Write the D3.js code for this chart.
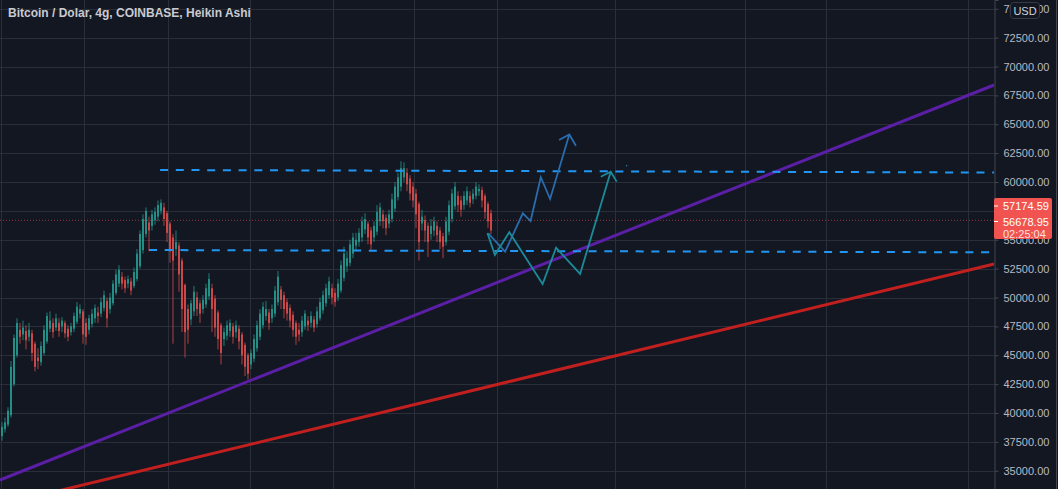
<!DOCTYPE html>
<html><head><meta charset="utf-8">
<script src="https://cdn.jsdelivr.net/npm/d3@7"></script>
<style>
html,body{margin:0;padding:0;background:#131722;overflow:hidden;}
svg{display:block;}
</style></head>
<body>
<svg id="c" width="1058" height="489"></svg>
<script>
// ---- data (prices in USD) ----
const title = "Bitcoin / Dolar, 4g, COINBASE, Heikin Ashi";
const opens = [38000,38600,39000,39800,42500,45000,47200,46800,47100,46600,46900,46000,44800,44400,45200,46200,47300,47800,47400,47800,47500,47800,47300,47000,47300,47900,48600,48800,47800,47200,47700,48200,48700,48600,49100,49700,49000,49500,50400,51200,51800,51500,51200,51400,51000,51600,52700,54100,55500,56500,56200,56700,57000,57500,57800,57300,56400,55200,54200,54500,53200,51100,49000,48100,48800,50000,49500,49000,49400,50100,50800,49900,48700,47600,46400,46700,47100,47500,47000,47300,46800,45900,45000,44200,44700,45600,46600,47600,48400,48700,48200,48600,49600,50700,50200,49600,49100,48500,47800,47200,47000,47500,48000,47800,48100,47700,48200,48900,49500,50200,50800,50400,50000,50600,51700,52700,53000,53800,54500,54800,55200,55900,56400,55800,55200,55700,56600,57200,56900,56400,56800,57700,58700,59600,60400,60800,60300,59600,59000,58100,56400,56700,56200,55500,55800,56200,55800,55300,54800,55700,56800,57900,58800,58400,58000,58400,58800,58500,58800,59200,59300,58800,58100,57300];
const closes = [38800,39200,40200,44000,46500,47800,46600,47400,46300,47200,45200,44000,44500,45800,47200,48400,48000,47000,48200,47100,48000,46900,46600,47500,48400,49200,49000,46800,46600,48200,48600,49100,48400,49600,50200,48200,50000,51200,52000,52400,51200,50800,51600,50600,52200,53800,55500,56800,57500,55800,57200,57400,58000,58200,56800,55600,54000,53200,54800,52000,49000,47000,47200,49500,50500,49000,48600,49800,50800,51600,49000,47400,46400,45200,47000,47600,47800,46600,47600,46200,45000,44000,43400,45200,46400,47600,48600,49200,49000,47800,49000,50600,51800,49800,49000,48600,48000,47200,46600,46800,48000,48600,47600,48400,47400,48800,49600,50200,50800,51400,50000,49600,51200,52800,53800,53400,54600,55200,55000,55600,56600,56800,55200,54600,56200,57400,57800,56600,56000,57200,58500,59600,60400,61200,61200,59800,59000,58400,57200,54800,57000,55800,54800,56200,56600,55400,54800,54400,56600,58000,59000,59600,58000,57600,58800,59200,58200,59000,59600,59400,58400,57400,56600,55800];
const highs = [39200,39600,40500,44500,46800,48200,47800,48000,47600,47800,47200,46200,45600,46200,47600,48700,48800,48200,48600,48200,48300,48000,47600,47800,48700,49600,49400,49000,48200,48500,49000,49400,49200,50000,50600,50000,50400,51500,52400,52800,52200,51800,51900,51700,52600,54200,55800,57200,57800,57000,57600,57800,58400,58500,58200,57500,56600,55500,55800,54800,53400,51200,49400,49800,51000,50500,49800,50200,51200,52100,51200,50200,48900,47800,47400,48000,48100,47800,48000,47600,47000,46100,45200,45500,46800,48000,49000,49600,49700,49000,49400,51000,52300,51000,50500,49900,49400,48800,48000,47800,48400,48900,48400,48800,48400,49200,50000,50600,51200,51800,51200,50800,51600,53200,54400,54000,55000,55600,55600,56000,57000,57300,56600,56100,56600,58000,58200,57600,57200,57600,59000,60000,60800,61800,61700,61200,60600,60000,59400,58300,57600,57100,56500,56800,57000,56600,56100,55600,57000,58400,59400,60000,59200,58800,59200,59600,59200,59400,60000,59800,59600,59000,58300,57600];
const lows = [37600,38300,38800,39600,42300,44800,46000,46300,45500,46200,44500,43600,43800,44100,45000,46000,47000,46500,47100,46600,47000,46500,46200,46700,47000,47700,48200,46000,45900,46800,47400,47800,47800,48300,48800,47400,48600,49300,50200,50900,50700,50400,50800,50200,50800,51400,52500,53800,55200,54000,55800,56300,56600,57200,56200,54800,53000,46000,53600,50500,47000,44800,46000,47600,48400,48400,47800,48600,49100,49800,47000,46600,45500,44200,45800,46300,46600,46000,46500,45500,44200,43200,42900,43800,44400,45300,46300,47300,48000,47200,47800,48300,49300,49000,48200,48000,47400,46600,45900,46200,46600,47200,47100,47400,47000,47400,48000,48600,49200,49900,49400,49200,49700,50400,51400,52200,52700,53400,54000,54400,54800,55500,54600,54100,54800,55400,56200,56000,55400,56000,56500,57400,58400,59200,60000,59200,58400,57800,56000,53200,55800,54800,53500,55000,55300,54800,54200,53400,54500,55400,56500,57600,57400,57000,57600,58000,57800,58100,58500,58800,57800,56800,56000,55500];

const yTicks = [35000,37500,40000,42500,45000,47500,50000,52500,55000,57500,60000,62500,65000,67500,70000,72500,75000];
// vertical grid positions, in bar index units (time)
const gridBars = [-0.3,27.5,55.2,82.7,110.3,137.5,165,204.3,247.7,274.7,322];

// drawings: [barIndex, price]
const purpleLine = [[-0.7,34200],[330.7,68400]];
const redLine = [[-0.7,32030],[330.7,52900]];
const upperLevel = [[52.7,61040],[330.7,60820]];
const lowerLevel = [[49,54110],[329.3,53910]];
const projA = [[162.1,55560],[167.7,53970],[173.6,57290],[176.2,56620],[179.6,60410],[182.7,58530],[189.1,64110]];
const projAHead = [[185.7,63640],[189.1,64110],[191.3,63140]];
const projB = [[161.8,55580],[164.3,53680],[169.1,55650],[180.2,51170],[184.7,54310],[192.7,52040],[202.9,60890]];
const projBHead = [[199.6,60460],[202.9,60890],[204.9,60030]];
const lastPrice = 56678.95;
const priceLabels = ["57174.59","56678.95","02:25:04"];

// ---- drawing ----
const W = 1058, H = 489, plotR = 994;
const FONT = "Liberation Sans, Arial, sans-serif";
const svg = d3.select("#c");
const x = d3.scaleLinear().domain([0, 330.667]).range([2, plotR]);
const y = d3.scaleLinear().domain([33420, 75758]).range([H, 0]);

svg.append("rect").attr("width", W).attr("height", H).attr("fill", "#131722");

const grid = svg.append("g").attr("stroke", "#2a2e39").attr("stroke-width", 1);
grid.selectAll("line.h").data(yTicks).join("line")
  .attr("x1", 0).attr("x2", plotR)
  .attr("y1", d => Math.round(y(d)) + 0.5).attr("y2", d => Math.round(y(d)) + 0.5);
grid.selectAll("line.v").data(gridBars).join("line")
  .attr("x1", d => Math.round(x(d)) + 0.5).attr("x2", d => Math.round(x(d)) + 0.5)
  .attr("y1", 0).attr("y2", H);

// title
svg.append("text").attr("x", 8).attr("y", 17).text(title)
  .attr("font-family", FONT).attr("font-size", 12)
  .attr("font-weight", "bold").attr("fill", "#c9cbd1");

// candles
const idx = d3.range(closes.length);
const cg = svg.append("g");
cg.selectAll("line.w").data(idx).join("line")
  .attr("x1", i => x(i)).attr("x2", i => x(i))
  .attr("y1", i => y(highs[i])).attr("y2", i => y(lows[i]))
  .attr("stroke", i => closes[i] >= opens[i] ? "#26a69a" : "#ef5350")
  .attr("stroke-opacity", 0.7).attr("stroke-width", 1);
cg.selectAll("rect").data(idx).join("rect")
  .attr("x", i => x(i) - 1).attr("width", 2)
  .attr("y", i => y(Math.max(opens[i], closes[i])))
  .attr("height", i => Math.max(1, Math.abs(y(opens[i]) - y(closes[i]))))
  .attr("fill", i => closes[i] >= opens[i] ? "#26a69a" : "#ef5350")
  .attr("fill-opacity", 0.75);

// last price dotted line
svg.append("line").attr("x1", 0).attr("x2", plotR)
  .attr("y1", y(lastPrice)).attr("y2", y(lastPrice))
  .attr("stroke", "#ef5350").attr("stroke-opacity", 0.55)
  .attr("stroke-dasharray", "1,2").attr("stroke-width", 1);

const line = d3.line().x(d => x(d[0])).y(d => y(d[1]));

// trend lines
svg.append("path").attr("d", line(purpleLine)).attr("stroke", "#5b1fa5").attr("stroke-width", 3).attr("fill", "none");
svg.append("path").attr("d", line(redLine)).attr("stroke", "#c21f1f").attr("stroke-width", 3).attr("fill", "none");

// levels
[upperLevel, lowerLevel].forEach(l => {
  svg.append("path").attr("d", line(l)).attr("stroke", "#2196f3").attr("stroke-width", 2)
    .attr("stroke-dasharray", "8,7.7").attr("fill", "none");
});

// projections
const cA = "#2a6dae", cB = "#1b8b9b";
svg.append("path").attr("d", line(projA)).attr("stroke", cA).attr("stroke-width", 1.8).attr("fill", "none");
svg.append("path").attr("d", line(projAHead)).attr("stroke", cA).attr("stroke-width", 1.8).attr("fill", "none");
svg.append("path").attr("d", line(projB)).attr("stroke", cB).attr("stroke-width", 1.8).attr("fill", "none");
svg.append("path").attr("d", line(projBHead)).attr("stroke", cB).attr("stroke-width", 1.8).attr("fill", "none");
svg.append("circle").attr("cx", x(208.2)).attr("cy", y(61410)).attr("r", 0.8).attr("fill", cB);

// price axis
svg.append("rect").attr("x", plotR).attr("y", 0).attr("width", W - plotR).attr("height", H).attr("fill", "#131722");
const ax = svg.append("g").attr("transform", `translate(${plotR + 0.5},0)`)
  .call(d3.axisRight(y).tickValues(yTicks).tickFormat(d3.format(".2f")).tickSize(4).tickPadding(5));
ax.select(".domain").attr("stroke", "#434651");
ax.selectAll(".tick line").attr("stroke", "#434651");
ax.selectAll(".tick text").attr("fill", "#b8bac2").attr("font-size", 11)
  .attr("font-family", FONT);
svg.append("line").attr("x1", W - 1.5).attr("x2", W - 1.5).attr("y1", 0).attr("y2", H).attr("stroke", "#434651");

// USD badge
svg.append("rect").attr("x", 1010.5).attr("y", 2.5).attr("width", 29).attr("height", 16).attr("rx", 3)
  .attr("fill", "#131722").attr("stroke", "#363a45");
svg.append("text").attr("x", 1025).attr("y", 14.5).attr("text-anchor", "middle").text("USD")
  .attr("font-family", FONT).attr("font-size", 11).attr("fill", "#d1d4dc");

// red price label
svg.append("rect").attr("x", plotR).attr("y", 198).attr("width", 58).attr("height", 41).attr("rx", 2).attr("fill", "#f05350");
const ly = [206, 221.5, 234];
priceLabels.forEach((t, k) => {
  svg.append("text").attr("x", 1003).attr("y", ly[k] + 4).text(t)
    .attr("font-family", FONT).attr("font-size", 11)
    .attr("fill", k < 2 ? "#ffffff" : "#ffe0df");
});
[206, 221.5].forEach(v => svg.append("line").attr("x1", plotR).attr("x2", plotR + 4).attr("y1", v).attr("y2", v).attr("stroke", "#ffffff"));
</script>
</body></html>
